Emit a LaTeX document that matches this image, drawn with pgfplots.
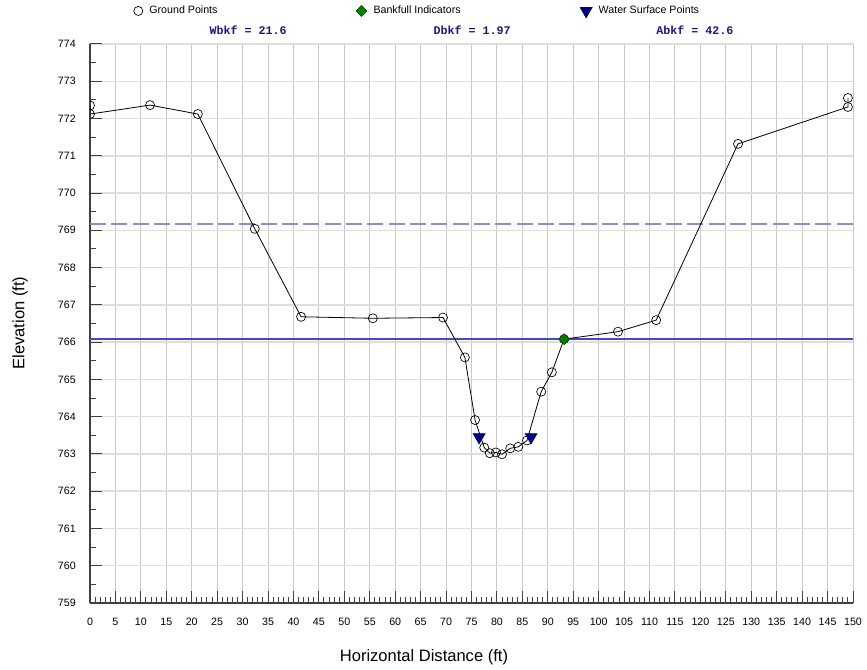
\documentclass[border=0pt]{standalone}
\usepackage{pgfplots}
\pgfplotsset{compat=1.18}
\usepackage{fontspec}
\setmainfont{Liberation Sans}
\newfontfamily\valfont{Liberation Mono}

\definecolor{navy}{RGB}{0,0,128}
\definecolor{valblue}{RGB}{24,24,140}
\definecolor{bkfline}{RGB}{72,72,188}
\definecolor{floodline}{RGB}{140,140,210}
\definecolor{bkfgreen}{RGB}{0,128,0}
\definecolor{bkfedge}{RGB}{0,70,0}
\definecolor{gridx}{RGB}{200,200,200}
\definecolor{gridy}{RGB}{222,222,222}

% legend keys show the marker only
\pgfplotsset{markonlylegend/.style={legend image code/.code={\draw[##1, only marks] plot coordinates {(0pt,0pt)};}}}

\begin{document}
\begin{tikzpicture}
\useasboundingbox (0,0) rectangle (650.25pt,502.5pt);
\begin{axis}[
  at={(67.5pt,50.25pt)}, anchor=south west,
  scale only axis, width=572.25pt, height=419.25pt,
  xmin=0, xmax=150, ymin=759, ymax=774,
  axis lines*=left,
  axis line style={-, draw=black!75, line width=0.9pt},
  tick align=inside,
  xtick={0,5,...,150}, ytick={759,760,...,774},
  minor x tick num=4, minor y tick num=1,
  major tick length=9pt, minor tick length=4.5pt,
  tick style={black!75, line width=0.75pt},
  grid=major,
  major x grid style={gridx, line width=0.75pt},
  major y grid style={gridy, line width=1.1pt},
  tick label style={font=\fontsize{8}{9}\selectfont, /pgf/number format/assume math mode=true},
  yticklabel style={inner sep=0pt, xshift=-10.5pt},
  xticklabel style={inner sep=0pt, yshift=-11pt},
  xlabel={Horizontal Distance (ft)},
  xlabel style={at={(axis description cs:0.4377,-0.0966)}, anchor=center, font=\fontsize{12.4}{14}\selectfont},
  ylabel={Elevation (ft)},
  ylabel style={at={(axis description cs:-0.0917,0.5009)}, anchor=center, font=\fontsize{12.4}{14}\selectfont},
  clip mode=individual,
  clip marker paths=true,
  markonlylegend,
  legend columns=3,
  legend cell align=left,
  legend style={at={(axis description cs:0.05701,1.05778)}, anchor=west,
    draw=none, fill=none, inner sep=0pt,
    font=\fontsize{8}{9}\selectfont,
    nodes={inner sep=0pt},
    /tikz/every odd column/.append style={column sep=4.9pt}},
]

% flood-prone elevation and bankfull elevation
\addplot[forget plot, floodline, line width=1.5pt, dash pattern=on 12pt off 4pt]
  coordinates {(0,769.18) (150,769.18)};
\addplot[forget plot, bkfline, line width=1.1pt]
  coordinates {(0,766.08) (150,766.08)};

% surveyed ground profile
\addplot[black, line width=0.6pt, mark=o, mark size=3.4pt,
  mark options={solid, line width=0.5pt}]
  coordinates {
  (0,772.35) (0,772.12) (11.8,772.36) (21.2,772.12) (32.4,769.04)
  (41.5,766.68) (55.6,766.64) (69.4,766.66) (73.7,765.59) (75.7,763.91)
  (77.5,763.17) (78.6,763.02) (79.8,763.04) (81.0,762.99) (82.6,763.15)
  (84.2,763.19) (85.9,763.36) (88.7,764.67) (90.8,765.19) (93.2,766.08)
  (103.8,766.28) (111.3,766.59) (127.4,771.32) (149.0,772.31) (149.0,772.55)
  };
\addlegendentry{\makebox[155pt][l]{Ground Points}}

% bankfull indicator
\addplot[only marks, mark=square*, mark size=2.9pt,
  mark options={rotate=45, fill=bkfgreen, draw=bkfedge, line width=0.4pt}]
  coordinates {(93.2,766.08)};
\addlegendentry{\makebox[155pt][l]{Bankfull Indicators}}

% water surface points
\addplot[only marks, mark=triangle*, mark size=5.2pt,
  mark options={rotate=180, fill=navy, draw=navy}]
  coordinates {(76.5,763.45) (86.7,763.45)};
\addlegendentry{Water Surface Points}

% bankfull summary values
\node[font=\valfont\bfseries\fontsize{8.75}{10}\selectfont, text=valblue]
  at (axis description cs:0.2071,1.02504) {Wbkf = 21.6};
\node[font=\valfont\bfseries\fontsize{8.75}{10}\selectfont, text=valblue]
  at (axis description cs:0.5007,1.02504) {Dbkf = 1.97};
\node[font=\valfont\bfseries\fontsize{8.75}{10}\selectfont, text=valblue]
  at (axis description cs:0.7929,1.02504) {Abkf = 42.6};
\end{axis}
\end{tikzpicture}
\end{document}
